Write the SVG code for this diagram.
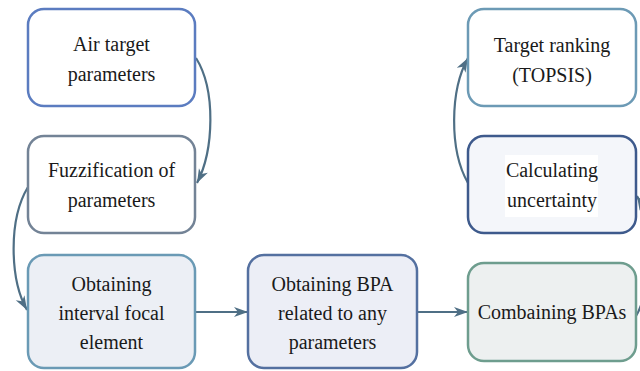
<svg xmlns="http://www.w3.org/2000/svg" width="640" height="371" viewBox="0 0 640 371">
<defs>
<marker id="arr" markerUnits="userSpaceOnUse" markerWidth="16" markerHeight="12" refX="14" refY="5" orient="auto" overflow="visible">
<path d="M0,0 L14,5 L0,10 L4,5 Z" fill="#4f6f85"/>
</marker>
</defs>
<style>
.box{stroke-width:2.5}
.t{font-size:20px;fill:#1a1a1a;text-anchor:middle}
.c{fill:none;stroke:#4f6f85;stroke-width:2.2;marker-end:url(#arr)}
</style>
<rect width="640" height="371" fill="#ffffff"/>
<g id="connectors">
<path class="c" d="M196,58 C216,90 214,150 197,183"/>
<path class="c" d="M28,187 C8,220 10,280 27,310"/>
<path class="c" d="M196,312 L248,312"/>
<path class="c" d="M417,312 L468,312"/>
<path class="c" d="M636,316 C652,290 652,222 637,196"/>
<path class="c" d="M468,183 C449,150 450,90 468,58"/>
</g>
<g font-family="'Liberation Serif', 'DejaVu Serif', 'Times New Roman', serif">
<g id="air-target">
<rect class="box" x="28" y="9" width="167" height="97" rx="16" fill="#ffffff" stroke="#5b7cc0"/>
<text class="t" x="111.5" y="51">Air target</text>
<text class="t" x="111.5" y="81">parameters</text>
</g>
<g id="fuzzification">
<rect class="box" x="28" y="136" width="167" height="97" rx="16" fill="#ffffff" stroke="#738396"/>
<text class="t" x="111.5" y="177">Fuzzification of</text>
<text class="t" x="111.5" y="207">parameters</text>
</g>
<g id="interval-focal">
<rect class="box" x="28" y="255" width="167" height="113" rx="16" fill="#eceff5" stroke="#6a9ab5"/>
<text class="t" x="111.5" y="291">Obtaining</text>
<text class="t" x="111.5" y="320">interval focal</text>
<text class="t" x="111.5" y="349">element</text>
</g>
<g id="bpa">
<rect class="box" x="248" y="255" width="169" height="113" rx="16" fill="#eceef6" stroke="#5470a0"/>
<text class="t" x="332.5" y="291">Obtaining BPA</text>
<text class="t" x="332.5" y="320">related to any</text>
<text class="t" x="332.5" y="349">parameters</text>
</g>
<g id="combaining">
<rect class="box" x="468" y="263" width="168" height="98" rx="16" fill="#edf0f0" stroke="#6e9d8e"/>
<text class="t" x="552" y="319">Combaining BPAs</text>
</g>
<g id="uncertainty">
<rect class="box" x="468" y="136" width="168" height="97" rx="16" fill="#f4f6fa" stroke="#3e5a8c"/>
<rect x="505" y="155" width="93" height="62" fill="#ffffff"/>
<text class="t" x="552" y="177">Calculating</text>
<text class="t" x="552" y="207">uncertainty</text>
</g>
<g id="ranking">
<rect class="box" x="468" y="9" width="168" height="97" rx="16" fill="#ffffff" stroke="#6c9ab5"/>
<text class="t" x="552" y="52">Target ranking</text>
<text class="t" x="552" y="82">(TOPSIS)</text>
</g>
</g>
</svg>
